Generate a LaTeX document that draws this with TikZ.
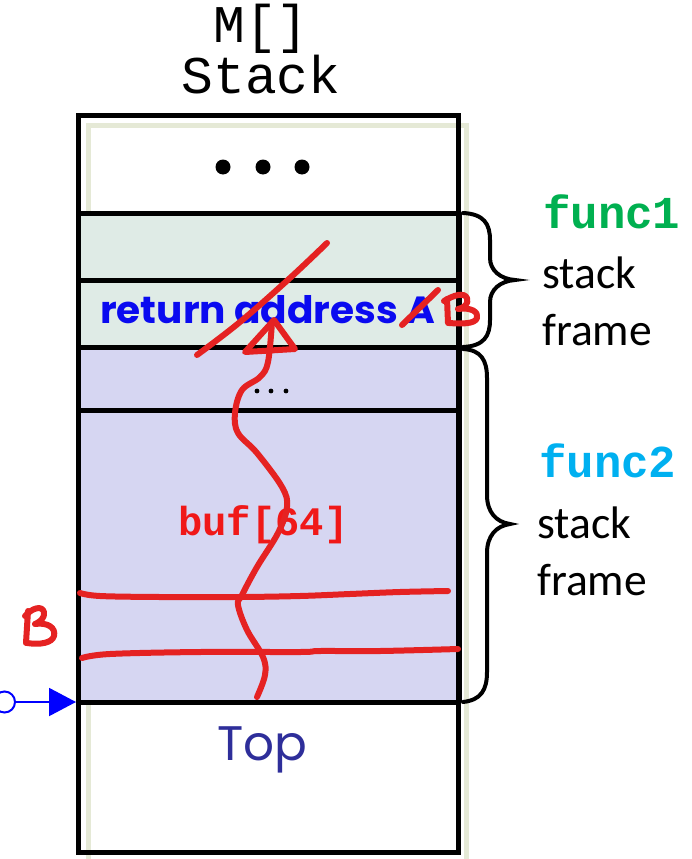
\documentclass[tikz,border=0pt]{standalone}
\usepackage{fontspec}
\usepackage{graphicx}
\usetikzlibrary{arrows.meta}
\newfontfamily\monofont{Liberation Mono}
\newfontfamily\calfont{Carlito}
\newfontfamily\gothfont{Poppins}
\definecolor{shadowc}{HTML}{E5E9D6}
\definecolor{fonegreen}{HTML}{DFEBE6}
\definecolor{lav}{HTML}{D6D6F2}
\definecolor{hred}{HTML}{E52222}
\definecolor{topblue}{HTML}{2E2E9A}
\definecolor{fgreen}{HTML}{00B050}
\definecolor{fcyan}{HTML}{00B0F0}
\definecolor{txtred}{HTML}{F01818}
\definecolor{retblue}{HTML}{0A0AF0}
\begin{document}
\begin{tikzpicture}[x=1pt,y=-1pt,
  boxline/.style={draw=black, line width=5pt},
  hand/.style={draw=hred, line width=6pt, line cap=round, line join=round},
  bracestyle/.style={draw=black, line width=4pt, line cap=round},
  lbl/.style={anchor=base west, inner sep=0pt, font=\calfont\fontsize{45.6}{50}\selectfont},
  fname/.style={anchor=base west, inner sep=0pt, font=\monofont\bfseries\fontsize{45.7}{50}\selectfont},
  header/.style={anchor=base, inner sep=0pt, align=center, font=\monofont\fontsize{53}{49}\selectfont},
]
\useasboundingbox (0,0) rectangle (692,859);

% shadow frame
\draw[shadowc, line width=5pt] (88,870) -- (88,125) -- (466,125) -- (466,870);

% fills
\fill[fonegreen] (78,213) rectangle (459,347);
\fill[lav] (78,347) rectangle (459,702);

% box and row lines
\draw[boxline] (78,115) rectangle (458,852);
\draw[boxline] (78,213) -- (459,213);
\draw[boxline] (78,280) -- (459,280);
\draw[boxline] (78,347) -- (459,347);
\draw[boxline] (78,410) -- (459,410);
\draw[boxline] (78,702) -- (459,702);
\draw[boxline] (459,213) -- (459,702);

% dots
\fill (223,167) circle (7.5);
\fill (263,167) circle (7.5);
\fill (302,167) circle (7.5);
\fill (257,391) circle (2.4);
\fill (271,391) circle (2.4);
\fill (286,391) circle (2.4);

% header (base anchor = baseline of last line)
\node[header] (title) at (261,93) {M[]\\Stack};

% texts in rows
\node[anchor=base west, inner sep=0pt, text=retblue] (ret) at (100,323)
  {\resizebox{335pt}{28pt}{\gothfont\bfseries return address A}};
\node[anchor=base west, inner sep=0pt, text=txtred,
  font=\monofont\bfseries\fontsize{40.5}{44}\selectfont] (buf) at (178,535) {buf[64]};
\node[anchor=base west, inner sep=0pt, text=topblue] (toplbl) at (217,760)
  {\resizebox{90pt}{!}{\gothfont Top}};

% braces
\draw[bracestyle] (463,213) .. controls (484,214) and (490,224) .. (490,240)
  -- (490,258) .. controls (490,270) and (500,279) .. (515,280)
  .. controls (500,281) and (490,290) .. (490,302)
  -- (490,320) .. controls (490,336) and (484,346) .. (463,347);
\draw[bracestyle] (463,349) .. controls (481,350) and (487,360) .. (487,378)
  -- (487,495) .. controls (487,512) and (496,522) .. (510,524)
  .. controls (496,526) and (487,536) .. (487,553)
  -- (487,672) .. controls (487,690) and (481,700) .. (463,702);

% right labels
\node[fname, text=fgreen] (f1) at (543,228) {func1};
\node[lbl] (s1) at (542,288) {stack};
\node[lbl] (fr1) at (542,345) {frame};
\node[fname, text=fcyan] (f2) at (539,477) {func2};
\node[lbl] (s2) at (537,538) {stack};
\node[lbl] (fr2) at (537,595) {frame};

% stack pointer
\node[circle, draw=blue, line width=2pt, minimum size=21pt, inner sep=0pt] (ptr) at (4.5,702) {};
\coordinate (sp) at (76,702);
\draw[blue, line width=2pt, -{Triangle[length=27pt,width=28pt]}] (ptr) -- (sp);

% red handwriting
\draw[hand] plot[smooth, tension=0.6] coordinates {(80,593) (100,596) (160,597) (240,597) (300,596) (350,594) (400,592) (448,591)};
\draw[hand] plot[smooth, tension=0.6] coordinates {(82,658) (110,654) (200,652) (300,652) (320,651) (380,651) (458,649)};
\draw[hand] plot[smooth, tension=0.6] coordinates {(257,697) (265,675) (263,657) (247,630) (238,605) (242,595) (257,567) (278,533) (287,507) (282,487) (257,453) (238,433) (235,413) (242,390) (260,377) (268,362) (272,322)};
\draw[hand] (245,352) -- (274,320) -- (295,349) -- cycle;
\draw[hand] plot[smooth, tension=0.6] coordinates {(197,355) (240,322) (290,278) (327,243)};
\draw[hand] (402,325) -- (438,290);
% right B
\draw[hand] (447,299) -- (448,323);
\draw[hand] (444,301) .. controls (454,295) and (464,292) .. (467,298) .. controls (469,304) and (464,308) .. (458,309) .. controls (471,307) and (479,312) .. (477,318) .. controls (475,324) and (462,324) .. (449,323);
% left B
\draw[hand] (28,611) -- (26,643);
\draw[hand] (25,616) .. controls (32,608) and (42,605) .. (44,612) .. controls (45,618) and (40,622) .. (35,624) .. controls (48,622) and (56,628) .. (54,636) .. controls (52,643) and (40,645) .. (27,643);
\end{tikzpicture}
\end{document}
